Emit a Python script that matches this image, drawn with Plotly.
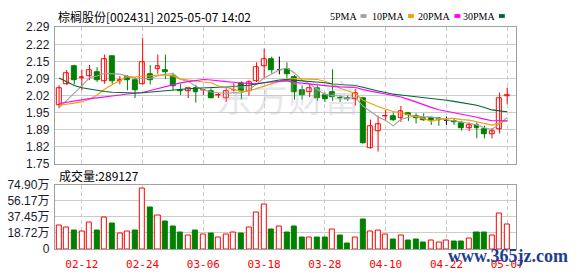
import plotly.graph_objects as go
import numpy as np

W, H = 578, 276

# ---------------- data ----------------
dates = ["02-07", "02-10", "02-11", "02-12", "02-13", "02-14", "02-17", "02-18", "02-19", "02-20",
         "02-21", "02-24", "02-25", "02-26", "02-27", "02-28", "03-03", "03-04", "03-05", "03-06",
         "03-07", "03-10", "03-11", "03-12", "03-13", "03-14", "03-17", "03-18", "03-19", "03-20",
         "03-21", "03-24", "03-25", "03-26", "03-27", "03-28", "03-31", "04-01", "04-02", "04-03",
         "04-07", "04-08", "04-09", "04-10", "04-11", "04-14", "04-15", "04-16", "04-17", "04-18",
         "04-21", "04-22", "04-23", "04-24", "04-25", "04-28", "04-29", "04-30", "05-06", "05-07"]

open_ = [1.981, 2.064, 2.135, 2.089, 2.095, 2.111, 2.076, 2.175, 2.078, 2.091,
         2.080, 2.064, 2.104, 2.124, 2.122, 2.098, 2.041, 2.036, 2.051, 2.041,
         2.039, 2.021, 2.011, 2.040, 2.070, 2.039, 2.076, 2.136, 2.164, 2.122,
         2.126, 2.091, 2.041, 2.034, 2.051, 2.022, 2.032, 2.011, 2.010, 2.005,
         2.011, 1.811, 1.880, 1.938, 1.938, 1.932, 1.949, 1.939, 1.932, 1.932,
         1.930, 1.922, 1.917, 1.910, 1.892, 1.901, 1.887, 1.869, 1.889, 2.018]
high = [2.061, 2.121, 2.142, 2.122, 2.141, 2.132, 2.182, 2.175, 2.097, 2.101,
        2.092, 2.247, 2.141, 2.182, 2.182, 2.110, 2.065, 2.049, 2.063, 2.045,
        2.049, 2.030, 2.049, 2.069, 2.076, 2.080, 2.151, 2.205, 2.174, 2.174,
        2.151, 2.101, 2.060, 2.066, 2.066, 2.032, 2.124, 2.020, 2.020, 2.047,
        2.011, 1.925, 1.941, 1.964, 1.953, 1.979, 1.950, 1.950, 1.950, 1.933,
        1.931, 1.937, 1.929, 1.920, 1.914, 1.914, 1.901, 1.892, 2.032, 2.051]
low = [1.970, 2.062, 2.064, 2.041, 2.081, 2.074, 2.066, 2.066, 2.064, 2.041,
       2.010, 2.064, 2.064, 2.106, 2.085, 2.041, 2.022, 2.010, 1.992, 2.022,
       2.009, 2.010, 1.995, 2.036, 2.005, 2.020, 2.074, 2.089, 2.107, 2.104,
       2.089, 2.004, 2.004, 2.014, 1.999, 1.995, 1.999, 1.995, 1.999, 1.981,
       1.830, 1.811, 1.799, 1.924, 1.920, 1.916, 1.920, 1.910, 1.920, 1.904,
       1.901, 1.904, 1.904, 1.881, 1.880, 1.851, 1.851, 1.851, 1.870, 1.986]
close = [2.050, 2.110, 2.082, 2.092, 2.121, 2.082, 2.162, 2.076, 2.082, 2.082,
         2.041, 2.152, 2.082, 2.134, 2.111, 2.055, 2.036, 2.049, 2.032, 2.043,
         2.011, 2.022, 2.039, 2.043, 2.036, 2.072, 2.132, 2.164, 2.122, 2.122,
         2.105, 2.034, 2.020, 2.050, 2.011, 2.006, 2.014, 2.009, 2.007, 2.031,
         1.832, 1.899, 1.908, 1.940, 1.922, 1.959, 1.944, 1.932, 1.922, 1.922,
         1.922, 1.922, 1.914, 1.892, 1.901, 1.892, 1.867, 1.879, 2.010, 2.020]

# volume in 万 (10k) units
volume = [27.4, 25.2, 21.9, 20.5, 30.7, 21.9, 36.9, 29.6, 18.3, 20.5,
          21.9, 69.8, 48.2, 39.1, 31.8, 26.3, 19.7, 15.4, 21.9, 17.2,
          18.3, 13.9, 17.2, 19.4, 18.3, 25.2, 42.4, 51.2, 23.0, 26.3,
          19.7, 26.3, 13.2, 13.9, 13.2, 13.2, 22.7, 15.4, 6.6, 13.9,
          34.0, 20.5, 21.9, 16.4, 11.0, 15.4, 9.9, 11.0, 7.7, 9.5,
          7.7, 9.9, 8.8, 8.8, 12.8, 19.7, 19.7, 15.4, 41.7, 28.9127]

# moving-average values before a full window exists
ma5_head = [1.972, 2.000, 2.028, 2.058]
ma10_head = [1.982, 1.985, 1.990, 1.995, 2.005, 2.022, 2.045, 2.064, 2.080]
ma20_head = [1.989, 1.994, 1.999, 2.004, 2.008, 2.011, 2.014, 2.018, 2.022, 2.026,
             2.028, 2.032, 2.040, 2.048, 2.055, 2.064, 2.070, 2.075, 2.079]
ma30_head = [2.089, 2.076, 2.060, 2.051, 2.045, 2.040, 2.036, 2.033, 2.031, 2.030,
             2.030, 2.031, 2.034, 2.037, 2.040, 2.043, 2.045, 2.047, 2.049, 2.051,
             2.052, 2.053, 2.054, 2.056, 2.058, 2.061, 2.066, 2.071, 2.076]

price_ticks = [1.75, 1.8175, 1.885, 1.9525, 2.02, 2.0875, 2.155, 2.2225, 2.29]
price_ticktext = ["1.75", "1.82", "1.89", "1.95", "2.02", "2.09", "2.15", "2.22", "2.29"]
vol_ticks = [0, 18.725, 37.45, 56.175, 74.90]
vol_ticktext = ["0", "18.72万", "37.45万", "56.17万", "74.90万"]

title_text = "棕榈股份[002431] 2025-05-07 14:02"
vol_label = "成交量:289127"
ma_names = ["5PMA", "10PMA", "20PMA", "30PMA"]
ma_colors = ["#a0a0a0", "#f0a000", "#ff00ff", "#006633"]

# ---------------- derived ----------------
n = len(close)
idx = np.arange(n)
O, Hh, L, C = map(np.array, (open_, high, low, close))


def ma(period, head):
    out = list(head)
    for i in range(period - 1, n):
        out.append(float(np.mean(C[i - period + 1:i + 1])))
    return out


mas = [ma(5, ma5_head), ma(10, ma10_head), ma(20, ma20_head), ma(30, ma30_head)]

up = [i for i in range(n) if C[i] > O[i]]
dn = [i for i in range(n) if C[i] < O[i]]
dj = [i for i in range(n) if C[i] == O[i]]

RED = "#ff0000"
GREEN = "#008000"
BW = 0.64


def wicks(ids):
    xs, ys = [], []
    for i in ids:
        xs += [i, i, None]
        ys += [L[i], Hh[i], None]
    return xs, ys


fig = go.Figure()
for ids, col in ((up, RED), (dn, GREEN), (dj, "#000000")):
    xs, ys = wicks(ids)
    fig.add_trace(go.Scatter(x=xs, y=ys, mode="lines", line=dict(color=col, width=1),
                             hoverinfo="skip", showlegend=False, xaxis="x", yaxis="y"))

fig.add_trace(go.Bar(x=up, y=[C[i] - O[i] for i in up], base=[O[i] for i in up], width=BW,
                     marker=dict(color="white", line=dict(color=RED, width=1)),
                     hoverinfo="skip", showlegend=False, xaxis="x", yaxis="y"))
fig.add_trace(go.Bar(x=dn, y=[O[i] - C[i] for i in dn], base=[C[i] for i in dn], width=BW,
                     marker=dict(color=GREEN, line=dict(color=GREEN, width=1)),
                     hoverinfo="skip", showlegend=False, xaxis="x", yaxis="y"))
# doji bodies
dxs, dys = [], []
for i in dj:
    dxs += [i - BW / 2, i + BW / 2, None]
    dys += [C[i], C[i], None]
fig.add_trace(go.Scatter(x=dxs, y=dys, mode="lines", line=dict(color="#000000", width=1),
                         hoverinfo="skip", showlegend=False, xaxis="x", yaxis="y"))

for vals, col in zip(mas, ma_colors):
    fig.add_trace(go.Scatter(x=idx, y=vals, mode="lines", line=dict(color=col, width=1.1),
                             hoverinfo="skip", showlegend=False, xaxis="x", yaxis="y"))

# volume: red when close >= previous close
vup, vdn = [], []
for i in range(n):
    prev = C[i - 1] if i > 0 else O[i]
    (vup if C[i] >= prev else vdn).append(i)
fig.add_trace(go.Bar(x=vup, y=[volume[i] for i in vup], width=0.66,
                     marker=dict(color="white", line=dict(color=RED, width=1)),
                     hoverinfo="skip", showlegend=False, xaxis="x2", yaxis="y2"))
fig.add_trace(go.Bar(x=vdn, y=[volume[i] for i in vdn], width=0.66,
                     marker=dict(color=GREEN, line=dict(color=GREEN, width=1)),
                     hoverinfo="skip", showlegend=False, xaxis="x2", yaxis="y2"))

# ---------------- layout ----------------
px_x0, px_x1 = 55.5, 522.5
dom_x = [px_x0 / W, px_x1 / W]
p_top, p_bot = 21.3, 165.3
v_top, v_bot = 187.0, 255.0
xr = [-0.56, 60.18]
tickvals = list(range(3, n, 8))
ticktext = [dates[i] for i in tickvals]

axis_common = dict(showline=True, mirror=True, linecolor="#a0a0a0", linewidth=1,
                   zeroline=False, ticks="", fixedrange=True)
grid_x = dict(showgrid=True, gridcolor="#cccccc", gridwidth=1, griddash="4px,3px")
grid_y = dict(showgrid=True, gridcolor="#cccccc", gridwidth=1)
yfont = dict(family="Liberation Sans, Noto Sans CJK SC", size=12, color="#1a1a2e")

fig.update_layout(
    width=W, height=H, margin=dict(l=0, r=0, t=0, b=0),
    paper_bgcolor="white", plot_bgcolor="white", barmode="overlay", bargap=0,
    xaxis=dict(domain=dom_x, range=xr, anchor="y", tickvals=tickvals, ticktext=ticktext,
               showticklabels=False, **grid_x, **axis_common),
    yaxis=dict(domain=[1 - p_bot / H, 1 - p_top / H], range=[1.75, 2.29], anchor="x",
               tickvals=price_ticks, ticktext=price_ticktext, tickfont=yfont,
               ticklabelstandoff=2, **grid_y, **axis_common),
    xaxis2=dict(domain=dom_x, range=xr, anchor="y2", tickvals=tickvals, ticktext=ticktext,
                tickfont=dict(family="DejaVu Sans Mono", size=11, color=RED),
                ticklabelstandoff=5, **grid_x, **axis_common),
    yaxis2=dict(domain=[1 - v_bot / H, 1 - v_top / H], range=[0, 74.90], anchor="x2",
                tickvals=vol_ticks, ticktext=vol_ticktext, tickfont=yfont,
                ticklabelstandoff=2, **grid_y, **axis_common),
)

ann = []
ann.append(dict(text=title_text, x=57 / W, y=1 - 9.5 / H, xref="paper", yref="paper",
                xanchor="left", yanchor="middle", showarrow=False,
                font=dict(family="Noto Sans CJK SC", size=12, color="#000000")))
ann.append(dict(text=vol_label, x=58 / W, y=1 - 177 / H, xref="paper", yref="paper",
                xanchor="left", yanchor="middle", showarrow=False,
                font=dict(family="Noto Sans CJK SC", size=12, color="#000000")))
# watermarks
ann.append(dict(text="东方财富", x=292 / W, y=1 - 94 / H, xref="paper", yref="paper",
                xanchor="center", yanchor="middle", showarrow=False,
                font=dict(family="Noto Sans CJK SC", size=36, color="rgba(185,185,200,0.35)")))
ann.append(dict(text="<b>www.365jz.com</b>", x=514 / W, y=1 - 262 / H, xref="paper", yref="paper",
                xanchor="center", yanchor="middle", showarrow=False,
                font=dict(family="Liberation Serif", size=18, color="#1e3f8f")))

legend_sq = [365, 413, 460, 505]
shapes = []
for name, col, sx in zip(ma_names, ma_colors, legend_sq):
    ann.append(dict(text=name, x=(sx - 2) / W, y=1 - 9.5 / H, xref="paper", yref="paper",
                    xanchor="right", yanchor="middle", showarrow=False,
                    font=dict(family="Liberation Serif", size=10, color="#000000")))
    shapes.append(dict(type="rect", xref="paper", yref="paper",
                       x0=sx / W, x1=(sx + 6) / W, y0=1 - 11.5 / H, y1=1 - 7.5 / H,
                       fillcolor=col, line=dict(width=0)))

fig.update_layout(annotations=ann, shapes=shapes)
fig.write_html("out.html")
